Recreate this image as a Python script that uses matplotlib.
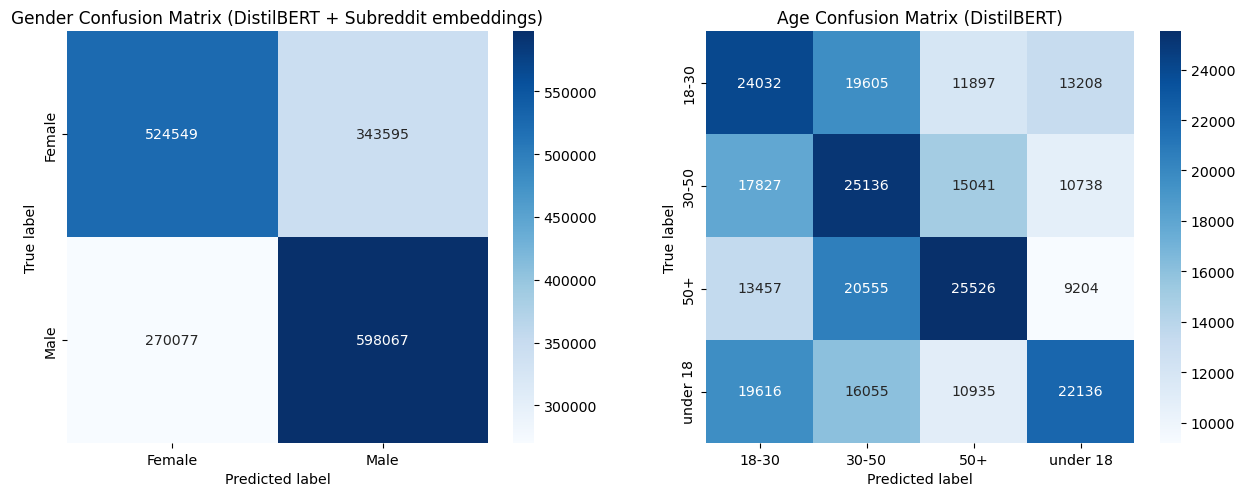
import numpy as np
import matplotlib
matplotlib.use("Agg")
import matplotlib.pyplot as plt
import seaborn as sns

gender_labels = ["Female", "Male"]
gender_cm = np.array([[524549, 343595],
                      [270077, 598067]])

age_labels = ["18-30", "30-50", "50+", "under 18"]
age_cm = np.array([[24032, 19605, 11897, 13208],
                   [17827, 25136, 15041, 10738],
                   [13457, 20555, 25526, 9204],
                   [19616, 16055, 10935, 22136]])

plt.rcParams["font.size"] = 10.2

fig = plt.figure(figsize=(12.45, 4.89), dpi=100)
W, H = 1245, 489

def box(x0, x1, y0, y1):
    return [x0 / W, 1 - y1 / H, (x1 - x0) / W, (y1 - y0) / H]

ax1 = fig.add_axes(box(67, 488, 32, 444))
cax1 = fig.add_axes(box(513, 534, 32, 444))
ax2 = fig.add_axes(box(706, 1134, 32, 444))
cax2 = fig.add_axes(box(1160, 1181, 32, 444))

sns.heatmap(gender_cm, annot=True, fmt="d", cmap="Blues", ax=ax1, cbar_ax=cax1,
            xticklabels=gender_labels, yticklabels=gender_labels)
ax1.set_title("Gender Confusion Matrix (DistilBERT + Subreddit embeddings)")
ax1.set_xlabel("Predicted label")
ax1.set_ylabel("True label")

sns.heatmap(age_cm, annot=True, fmt="d", cmap="Blues", ax=ax2, cbar_ax=cax2,
            xticklabels=age_labels, yticklabels=age_labels)
ax2.set_title("Age Confusion Matrix (DistilBERT)")
ax2.set_xlabel("Predicted label")
ax2.set_ylabel("True label")

fig.savefig("out.png", dpi=100)
